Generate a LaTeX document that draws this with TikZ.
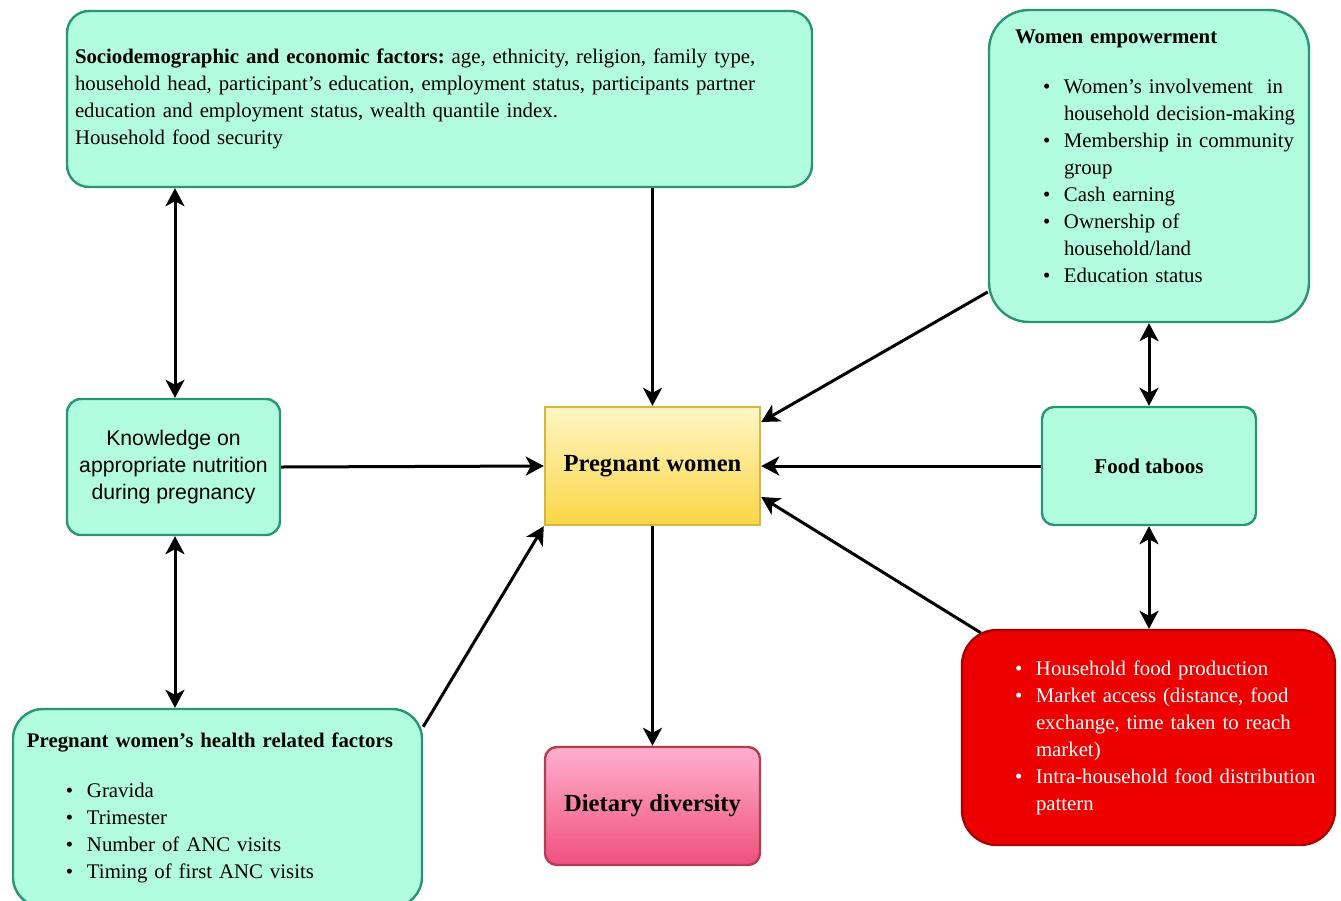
\documentclass[tikz,border=0pt]{standalone}
\usepackage{fontspec}
\setmainfont{Liberation Serif}
\setsansfont{Liberation Sans}
\usetikzlibrary{arrows.meta}
\definecolor{mint}{RGB}{178,252,224}
\definecolor{mintline}{RGB}{40,150,118}
\definecolor{yelltop}{RGB}{255,246,196}
\definecolor{yellbot}{RGB}{250,214,70}
\definecolor{yellline}{RGB}{214,182,60}
\definecolor{pinktop}{RGB}{255,176,205}
\definecolor{pinkbot}{RGB}{240,80,125}
\definecolor{pinkline}{RGB}{180,60,85}
\definecolor{redfill}{RGB}{236,0,0}
\definecolor{redline}{RGB}{170,0,0}
\newlength{\bulind}
\newcommand{\bl}{\hspace*{\bulind}\makebox[21pt][l]{\textbullet}}
\newcommand{\bc}{\hspace*{\bulind}\hspace*{21pt}}
\frenchspacing
\hyphenpenalty=10000

\begin{document}
\begin{tikzpicture}[x=1pt,y=-1pt,
        txt/.style={font={\fontsize{20.8}{27}\selectfont}},
        box/.style={draw=mintline,fill=mint,line width=2.4pt,rounded corners=#1,txt},
        box/.default=14pt,
        arr/.style={line width=3pt,-{Stealth[length=18pt,width=19pt,inset=5pt]}},
        darr/.style={line width=3pt,{Stealth[length=18pt,width=19pt,inset=5pt]}-{Stealth[length=18pt,width=19pt,inset=5pt]}}]
        \useasboundingbox (0,0) rectangle (1341,900);
        \fill[white] (0,0) rectangle (1341,900);

        \node[box=22pt,minimum width=745pt,minimum height=176pt,text width=729pt,inner xsep=8pt,align=left] (socio) at (439.5,99)
            {\textbf{Sociodemographic and economic factors:} age, ethnicity, religion, family type,\\
             household head, participant's education, employment status, participants partner\\
             education and employment status, wealth quantile index.\\
             Household food security};
        \node[box=40pt,minimum width=320pt,minimum height=312pt,text width=304pt,inner xsep=8pt,align=left] (women) at (1149,166)
            {\setlength{\bulind}{46pt}\hspace*{18pt}\textbf{Women empowerment}\\[23pt]
             \bl Women's involvement\ \ in\\
             \bc household decision-making\\
             \bl Membership in community\\
             \bc group\\
             \bl Cash earning\\
             \bl Ownership of\\
             \bc household/land\\
             \bl Education status\\[-7pt]
             \mbox{}};
        \node[box=14pt,minimum width=213pt,minimum height=136pt,align=center,font={\sffamily\fontsize{21.2}{27}\selectfont}] (know) at (173.5,467)
            {Knowledge on\\appropriate nutrition\\during pregnancy};
        \node[draw=yellline,top color=yelltop,bottom color=yellbot,line width=2.4pt,minimum width=215pt,minimum height=118pt,font={\bfseries\fontsize{24.6}{27}\selectfont}] (preg) at (652.5,466)
            {Pregnant women};
        \node[box=12pt,minimum width=214pt,minimum height=118pt,font={\bfseries\fontsize{21}{27}\selectfont}] (food) at (1149,466)
            {Food taboos};
        \node[box=30pt,minimum width=409pt,minimum height=198pt,text width=381pt,inner xsep=14pt,align=left] (health) at (217.5,808)
            {\setlength{\bulind}{39pt}\textbf{Pregnant women's health related factors}\\[23pt]
             \bl Gravida\\
             \bl Trimester\\
             \bl Number of ANC visits\\
             \bl Timing of first ANC visits};
        \node[draw=pinkline,top color=pinktop,bottom color=pinkbot,line width=2.4pt,rounded corners=12pt,minimum width=215pt,minimum height=118pt,font={\bfseries\fontsize{24.6}{27}\selectfont}] (diet) at (652.5,806)
            {Dietary diversity};
        \node[draw=redline,fill=redfill,line width=2.4pt,rounded corners=35pt,minimum width=373pt,minimum height=215pt,text width=345pt,inner xsep=14pt,align=left,txt,text=white] (market) at (1148.5,737.5)
            {\setlength{\bulind}{39pt}\bl Household food production\\
             \bl Market access (distance, food\\
             \bc exchange, time taken to reach\\
             \bc market)\\
             \bl Intra-household food distribution\\
             \bc pattern};

        \draw[darr] (socio.south -| 175,0) -- (know.north -| 175,0);
        \draw[arr] (socio.south -| preg.north) -- (preg.north);
        \draw[arr] (women.218) -- ([yshift=44pt]preg.east);
        \draw[darr] (women.south) -- (food.north);
        \draw[arr] (food.west) -- (preg.east);
        \draw[arr] (know.east) -- (preg.west);
        \draw[darr] (know.south -| 175,0) -- (health.north -| 175,0);
        \draw[arr] ([yshift=-19pt]health.north east) -- (preg.south west);
        \draw[arr] ([xshift=20pt,yshift=-4pt]market.north west) -- ([yshift=-31pt]preg.east);
        \draw[darr] (food.south) -- (food.south |- market.north);
        \draw[arr] (preg.south) -- (diet.north);
    \end{tikzpicture}
\end{document}
